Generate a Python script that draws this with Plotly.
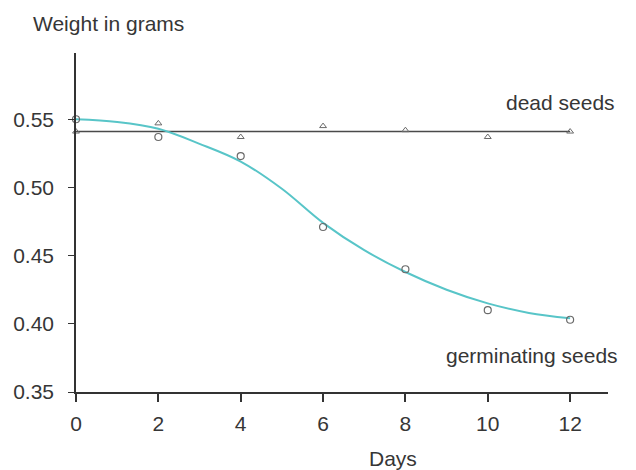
import plotly.graph_objects as go

# ---- data ----
days = [0, 2, 4, 6, 8, 10, 12]
germinating_weight = [0.550, 0.537, 0.523, 0.471, 0.440, 0.410, 0.403]
dead_weight = [0.541, 0.547, 0.537, 0.545, 0.542, 0.537, 0.541]

# hand-drawn fitted curve for germinating seeds
fit_days = [0, 1, 2, 3, 4, 5, 6, 7, 8, 9, 10, 11, 12]
fit_weight = [0.550, 0.548, 0.543, 0.532, 0.519, 0.499, 0.474, 0.454, 0.438, 0.425, 0.415, 0.408, 0.404]

# straight line drawn through dead-seed points
dead_fit_days = [0, 12]
dead_fit_weight = [0.541, 0.541]

x_ticks = [0, 2, 4, 6, 8, 10, 12]
y_ticks = [0.35, 0.40, 0.45, 0.50, 0.55]
y_tick_text = ["0.35", "0.40", "0.45", "0.50", "0.55"]

TEXT = "#363636"
FONT = "Liberation Sans"

fig = go.Figure()
fig.add_trace(go.Scatter(x=dead_fit_days, y=dead_fit_weight, mode="lines",
                         line=dict(color="#4a4a4a", width=1.6), hoverinfo="skip"))
fig.add_trace(go.Scatter(x=fit_days, y=fit_weight, mode="lines",
                         line=dict(color="#58c5c8", width=2, shape="spline", smoothing=1),
                         hoverinfo="skip"))
fig.add_trace(go.Scatter(x=days, y=dead_weight, mode="markers",
                         marker=dict(symbol="triangle-up-open", size=6,
                                     color="#6a6a6a", line=dict(width=1)),
                         cliponaxis=False))
fig.add_trace(go.Scatter(x=days, y=germinating_weight, mode="markers",
                         marker=dict(symbol="circle-open", size=7,
                                     color="#6a6a6a", line=dict(width=1.2)),
                         cliponaxis=False))

# page body has an 8px margin: positions below are in screen pixels of the reference
OFF = 8
W, H = 636, 470
L = 76 - OFF
T = 53 - OFF
pw = 532
ph = 392 - 53
R = W - L - pw
B = H - T - ph

def px(xp):
    return (xp - OFF - L) / pw

def py(yp):
    return (T + ph - (yp - OFF)) / ph

ann = [
    dict(text="Weight in grams", x=px(31), y=py(23), xanchor="left", yanchor="middle"),
    dict(text="dead seeds", x=px(617), y=py(102), xanchor="right", yanchor="middle"),
    dict(text="germinating seeds", x=px(620), y=py(355), xanchor="right", yanchor="middle"),
    dict(text="Days", x=px(393), y=py(458), xanchor="center", yanchor="middle"),
]
for a in ann:
    a.update(xref="paper", yref="paper", showarrow=False,
             font=dict(family=FONT, size=21, color=TEXT))

fig.update_layout(
    width=W, height=H,
    margin=dict(l=L, r=R, t=T, b=B, pad=0, autoexpand=False),
    paper_bgcolor="white", plot_bgcolor="white",
    showlegend=False,
    annotations=ann,
    font=dict(family=FONT, size=21, color=TEXT),
)
fig.update_xaxes(range=[0, 12.92], tickvals=x_ticks, ticktext=[str(v) for v in x_ticks],
                 showline=True, linecolor="#333", linewidth=1.6,
                 ticks="outside", ticklen=8, tickwidth=1.6, tickcolor="#333",
                 ticklabelstandoff=4, automargin=False,
                 showgrid=False, zeroline=False,
                 tickfont=dict(family=FONT, size=21, color=TEXT))
fig.update_yaxes(range=[0.35, 0.5986], tickvals=y_ticks, ticktext=y_tick_text,
                 showline=True, linecolor="#333", linewidth=1.6,
                 ticks="outside", ticklen=6, tickwidth=1.4, tickcolor="#333",
                 ticklabelstandoff=10, automargin=False,
                 showgrid=False, zeroline=False,
                 tickfont=dict(family=FONT, size=21, color=TEXT))

fig.write_html("out.html")
